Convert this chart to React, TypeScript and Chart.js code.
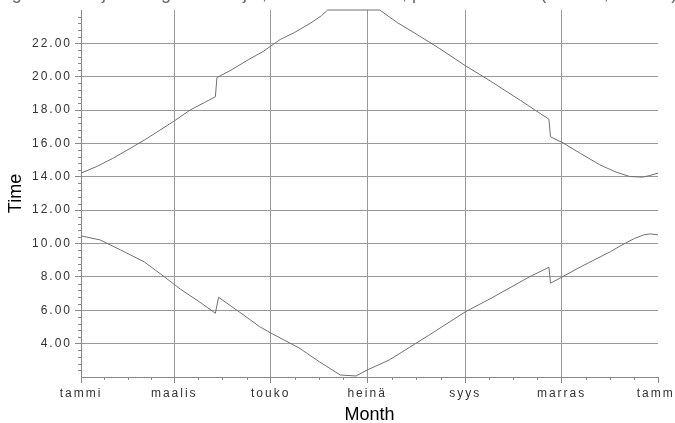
import { useEffect, useRef } from 'react';
import { Chart, registerables } from 'chart.js';

Chart.register(...registerables);

// Title (only its lower edge shows at the top of the picture)
const TITLE = 'Auringonnousu- ja auringonlaskuajat, Rovaniemi 2010, paikallinen aika (UTC+2, UTC+3) (h)';

// Day of year (0 = 1 Jan) and sunset time
const SUNSET_DAYS = [0, 10, 20, 31, 40, 50, 59, 69, 78, 85, 86, 95, 106, 115, 126, 135, 145, 152, 156, 189, 200, 214, 227, 243, 259, 278, 296, 297, 305, 316, 328, 338, 347, 355, 360, 365];
const SUNSET = [14.22, 14.62, 15.1, 15.7, 16.2, 16.8, 17.35, 18.0, 18.45, 18.8, 19.95, 20.4, 21.03, 21.5, 22.23, 22.65, 23.2, 23.65, 24.0, 24.0, 23.25, 22.45, 21.68, 20.67, 19.74, 18.58, 17.45, 16.4, 16.03, 15.4, 14.73, 14.3, 14.02, 13.98, 14.08, 14.22];

// Day of year and sunrise time
const SUNRISE_DAYS = [0, 12, 25, 40, 50, 63, 75, 85, 87, 100, 113, 120, 138, 151, 164, 174, 181, 195, 220, 243, 260, 284, 296, 297, 316, 335, 341, 350, 356, 360, 365];
const SUNRISE = [10.46, 10.22, 9.62, 8.9, 8.2, 7.26, 6.5, 5.82, 6.78, 5.91, 5.02, 4.64, 3.74, 2.9, 2.12, 2.06, 2.42, 3.02, 4.5, 5.9, 6.75, 8.02, 8.58, 7.62, 8.6, 9.52, 9.85, 10.3, 10.52, 10.58, 10.52];

// Axis ticks
const MONTH_TICKS = [0, 59, 120, 181, 243, 304, 365];
const MONTH_LABELS = ['tammi', 'maalis', 'touko', 'heinä', 'syys', 'marras', 'tammi'];
const Y_TICKS = [4, 6, 8, 10, 12, 14, 16, 18, 20, 22];
const Y_MIN = 2;
const Y_MAX = 24;
const Y_MINOR_STEP = 0.4;

const FONT = "'Liberation Sans', Arial, sans-serif";

export default function App() {
  const ref = useRef<HTMLCanvasElement>(null);

  useEffect(() => {
    document.body.style.margin = '0';
    const canvas = ref.current!;

    const spacing = {
      id: 'spacing',
      beforeUpdate(chart: any) {
        chart.ctx.letterSpacing = '2px';
      },
      beforeDraw(chart: any) {
        chart.ctx.letterSpacing = '2px';
      },
    };

    const extras = {
      id: 'extras',
      afterDraw(chart: any) {
        const ctx = chart.ctx as CanvasRenderingContext2D;
        const { left, right, top, bottom } = chart.chartArea;
        const xs = chart.scales.x;
        const ys = chart.scales.y;
        ctx.save();
        (ctx as any).letterSpacing = '0px';
        ctx.strokeStyle = '#888888';
        ctx.lineWidth = 1;
        ctx.beginPath();
        const nMinor = Math.round((Y_MAX - Y_MIN) / Y_MINOR_STEP);
        for (let k = 1; k < nMinor; k++) {
          if (k % 5 === 0) continue;
          const py = Math.round(ys.getPixelForValue(Y_MIN + k * Y_MINOR_STEP)) + 0.5;
          ctx.moveTo(left - 3, py);
          ctx.lineTo(left, py);
        }
        for (let i = 0; i < MONTH_TICKS.length - 1; i++) {
          const a = MONTH_TICKS[i];
          const b = MONTH_TICKS[i + 1];
          for (const f of [0.25, 0.5, 0.75]) {
            const px = Math.round(xs.getPixelForValue(a + (b - a) * f)) + 0.5;
            ctx.moveTo(px, bottom);
            ctx.lineTo(px, bottom + 3);
          }
        }
        ctx.stroke();

        ctx.fillStyle = '#000000';
        ctx.font = `18px ${FONT}`;
        ctx.textAlign = 'center';
        ctx.textBaseline = 'alphabetic';
        ctx.fillText('Month', (left + right) / 2, 419.5);
        ctx.save();
        ctx.translate(21, (top + bottom) / 2);
        ctx.rotate(-Math.PI / 2);
        ctx.fillText('Time', 0, 0);
        ctx.restore();

        ctx.fillStyle = '#666666';
        ctx.textBaseline = 'bottom';
        ctx.fillText(TITLE, 337, 3.5);
        ctx.restore();
      },
    };

    const chart = new Chart(canvas, {
      type: 'line',
      data: {
        datasets: [
          {
            label: 'sunset',
            data: SUNSET_DAYS.map((d, i) => ({ x: d, y: SUNSET[i] })),
            borderColor: '#707070',
            borderWidth: 1,
            pointRadius: 0,
            tension: 0,
            clip: 2,
          },
          {
            label: 'sunrise',
            data: SUNRISE_DAYS.map((d, i) => ({ x: d, y: SUNRISE[i] })),
            borderColor: '#707070',
            borderWidth: 1,
            pointRadius: 0,
            tension: 0,
            clip: 2,
          },
        ],
      },
      options: {
        animation: false,
        responsive: false,
        events: [],
        layout: { padding: { top: 10, right: 17, bottom: 0, left: 0 } },
        plugins: { legend: { display: false }, tooltip: { enabled: false }, title: { display: false } },
        scales: {
          x: {
            type: 'linear',
            min: 0,
            max: 365,
            afterBuildTicks: (s: any) => {
              s.ticks = MONTH_TICKS.map((v) => ({ value: v }));
            },
            afterFit: (s: any) => {
              s.height = 46;
              s.paddingLeft = 0;
              s.paddingRight = 0;
            },
            ticks: {
              autoSkip: false,
              maxRotation: 0,
              padding: 3,
              color: '#333333',
              font: { family: FONT, size: 12 },
              callback: (_v: any, i: number) => MONTH_LABELS[i],
            },
            grid: {
              color: (c: any) => (c.tick && (c.tick.value === 0 || c.tick.value === 365) ? 'rgba(0,0,0,0)' : '#999999'),
              tickColor: '#888888',
              tickLength: 6,
            },
            border: { color: '#888888' },
          },
          y: {
            type: 'linear',
            min: Y_MIN,
            max: Y_MAX,
            afterBuildTicks: (s: any) => {
              s.ticks = Y_TICKS.map((v) => ({ value: v }));
            },
            afterFit: (s: any) => {
              s.width = 81;
              s.paddingTop = 0;
              s.paddingBottom = 0;
            },
            ticks: {
              padding: 3,
              color: '#333333',
              font: { family: FONT, size: 12 },
              callback: (v: any) => Number(v).toFixed(2),
            },
            grid: { color: '#999999', tickColor: '#888888', tickLength: 6 },
            border: { color: '#888888' },
          },
        },
      },
      plugins: [spacing, extras],
    } as any);

    return () => chart.destroy();
  }, []);

  return (
    <div style={{ width: 675, height: 423, position: 'relative' }}>
      <canvas ref={ref} width={675} height={423} style={{ display: 'block' }} />
    </div>
  );
}
